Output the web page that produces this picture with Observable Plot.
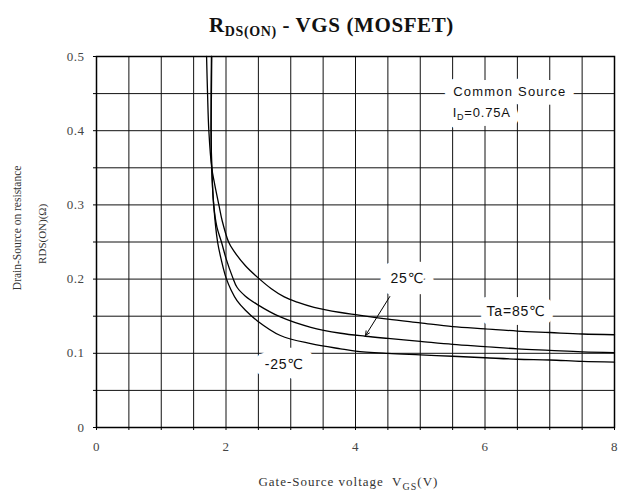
<!DOCTYPE html>
<html><head><meta charset="utf-8">
<script src="https://cdn.jsdelivr.net/npm/d3@7"></script>
<script src="https://cdn.jsdelivr.net/npm/@observablehq/plot@0.6"></script>
<style>
body{margin:0;background:#fff;}
#title{height:40px;width:623px;box-sizing:border-box;padding-top:15px;padding-left:40px;text-align:center;font-family:"Liberation Serif",serif;font-size:21px;font-weight:bold;line-height:1;color:#111;letter-spacing:0.6px;white-space:pre;}
#title sub{font-size:14px;vertical-align:baseline;position:relative;top:4px;}
svg text{white-space:pre;}
</style></head><body>
<div id="title">R<sub>DS(ON)</sub> - VGS (MOSFET)</div>
<div id="chart"></div>
<script>
// ---- axis ticks / grid ----
const xGrid = [0,0.5,1,1.5,2,2.5,3,3.5,4,4.5,5,5.5,6,6.5,7,7.5,8];
const yGrid = [0,0.05,0.1,0.15,0.2,0.25,0.3,0.35,0.4,0.45,0.5];
const xTicks = [0,2,4,6,8];
const yTicks = [0,0.1,0.2,0.3,0.4,0.5];

// ---- series (VGS in V, RDS(ON) in ohm) ----
const seriesNames = ["Ta=85℃","25℃","-25℃"];
const vgs85 = [1.70,1.715,1.735,1.78,1.82,1.89,1.94,2.04,2.12,2.30,2.48,2.70,2.90,3.10,3.36,3.77,4.00,4.50,5.00,5.50,6.00,6.50,7.00,7.50,8.00];
const rds85 = [0.500,0.450,0.400,0.350,0.330,0.300,0.279,0.250,0.238,0.218,0.203,0.187,0.176,0.169,0.162,0.155,0.152,0.146,0.141,0.136,0.133,0.130,0.128,0.126,0.125];
const vgs25 = [1.775,1.77,1.77,1.78,1.81,1.86,1.93,2.00,2.10,2.17,2.30,2.48,2.84,3.31,3.77,4.15,4.50,5.00,5.50,6.00,6.50,7.00,7.50,8.00];
const rds25 = [0.500,0.450,0.400,0.350,0.300,0.270,0.250,0.228,0.203,0.189,0.177,0.166,0.149,0.135,0.127,0.123,0.120,0.116,0.112,0.109,0.106,0.104,0.102,0.101];
const vgsM25 = [1.78,1.775,1.77,1.78,1.81,1.87,1.93,2.00,2.08,2.17,2.30,2.48,2.84,3.31,3.77,4.00,4.50,5.00,5.50,6.00,6.50,7.00,7.50,8.00];
const rdsM25 = [0.500,0.450,0.400,0.350,0.300,0.250,0.225,0.202,0.185,0.171,0.158,0.144,0.124,0.113,0.106,0.103,0.100,0.098,0.096,0.094,0.092,0.091,0.089,0.088];

const table = [];
[[vgs85,rds85],[vgs25,rds25],[vgsM25,rdsM25]].forEach(([xs,ys],i)=>{
  xs.forEach((v,j)=>table.push({series:seriesNames[i], vgs:v, rds:ys[j]}));
});

const serif = "Liberation Serif, DejaVu Serif, serif";
const sans = "Liberation Sans, Arial, DejaVu Sans, sans-serif";

// annotation labels: text, x, y, anchor, size, halo width
const notes = [
  {t:"Common Source", x:5.51, y:0.452, a:"start", s:13, h:18},
  {t:"ID=0.75A", x:5.50, y:0.4236, a:"start", s:13, h:18},
  {t:seriesNames[1], x:4.80, y:0.2004, a:"middle", s:14, h:22},
  {t:seriesNames[0], x:6.48, y:0.1568, a:"middle", s:14, h:18},
  {t:seriesNames[2], x:2.90, y:0.0849, a:"middle", s:14, h:22}
];
const haloMarks = notes.map(n => Plot.text([n.t], {x:n.x, y:n.y, textAnchor:n.a, fontSize:n.s, fontFamily:sans, fill:"white", stroke:"white", strokeWidth:n.h}));
const noteMarks = notes.map(n => Plot.text([n.t], {x:n.x, y:n.y, textAnchor:n.a, fontSize:n.s, fontFamily:sans, fill:"#111"}));

const plot = Plot.plot({
  width: 623, height: 455,
  marginLeft: 96, marginRight: 9, marginTop: 16, marginBottom: 68,
  x: {domain:[0,8], label:null},
  y: {domain:[0,0.5], label:null},
  style: {fontFamily: serif, fontSize: "13px", color:"#000", background:"#fff"},
  marks: [
    Plot.ruleX(xGrid, {stroke:"#111", strokeWidth:1}),
    Plot.ruleY(yGrid, {stroke:"#111", strokeWidth:1}),
    ...haloMarks,
    ...noteMarks,
    Plot.line(table, {x:"vgs", y:"rds", z:"series", stroke:"#000", strokeWidth:1.3, curve:"catmull-rom"}),
    Plot.arrow([0], {x1:4.53, y1:0.1765, x2:4.155, y2:0.124, stroke:"#000", strokeWidth:1, headLength:7, headAngle:50}),
    Plot.frame({stroke:"#000", strokeWidth:1.5}),
    Plot.axisX({ticks:xGrid, tickSize:3, tickFormat:()=>"", stroke:"#000", label:null}),
    Plot.axisY({ticks:yGrid, tickSize:3, tickFormat:()=>"", stroke:"#000", label:null}),
    Plot.axisX({ticks:xTicks, tickSize:0, tickPadding:14, fill:"#444", fontSize:13, tickFormat:d=>String(d), label:null}),
    Plot.axisY({ticks:yTicks, tickSize:0, tickPadding:12, fill:"#444", fontSize:13, tickFormat:d=>String(d), label:null}),
    Plot.text(["Drain-Source on resistance"], {frameAnchor:"left", y:0.269, dx:-79, rotate:-90, textAnchor:"middle", fill:"#333", fontSize:11.5}),
    Plot.text(["RDS(ON)(Ω)"], {frameAnchor:"left", y:0.261, dx:-54, rotate:-90, textAnchor:"middle", fill:"#333", fontSize:11}),
    Plot.text(["Gate-Source voltage  VGS(V)"], {frameAnchor:"bottom", x:2.50, dy:58, textAnchor:"start", fill:"#333", fontSize:13})
  ]
});
document.getElementById("chart").appendChild(plot);

const svg = d3.select(plot);
const byText = list => svg.selectAll("text").filter(function(){return list.includes(this.textContent);});
byText(["Gate-Source voltage  VGS(V)"]).style("letter-spacing","1px");
byText(["Common Source"]).style("letter-spacing","1.2px");
byText(["Ta=85℃","25℃","-25℃","ID=0.75A"]).style("letter-spacing","0.8px");
byText(["0","2","4","6","8","0.1","0.2","0.3","0.4","0.5"]).style("letter-spacing","0.5px");
function subscript(full, before, sub, after, size, shift){
  byText([full]).each(function(){
    const t = d3.select(this);
    t.text("");
    t.append("tspan").text(before);
    t.append("tspan").attr("dy", shift).attr("font-size", size).text(sub);
    if (after) t.append("tspan").attr("dy", -shift).text(after);
  });
}
subscript("Gate-Source voltage  VGS(V)", "Gate-Source voltage  V", "GS", "(V)", 10, 4);
subscript("ID=0.75A", "I", "D", "=0.75A", 9, 3);
</script>
</body></html>
